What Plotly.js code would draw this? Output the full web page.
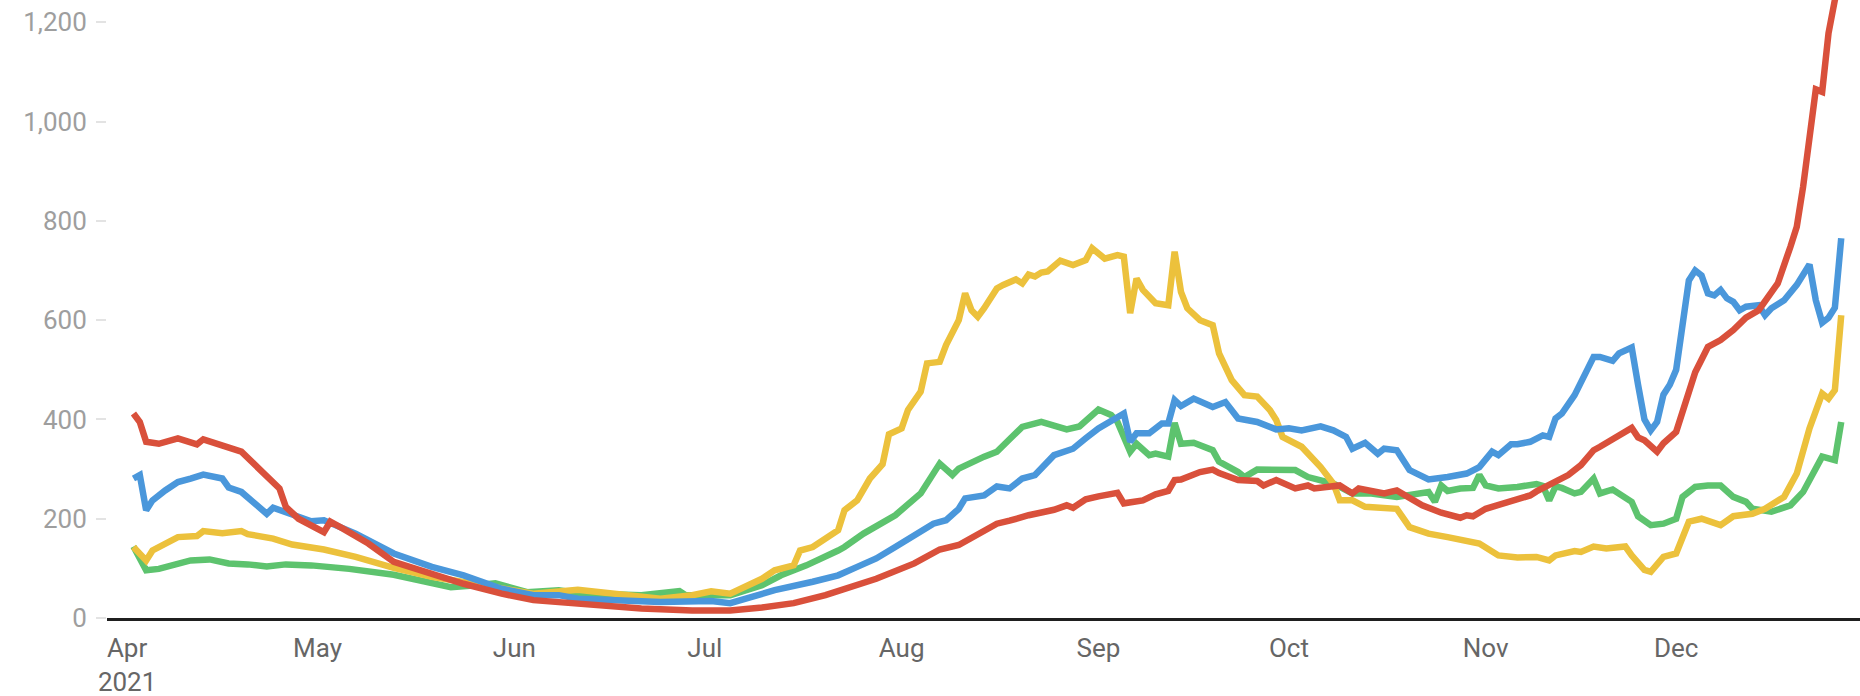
<!DOCTYPE html>
<html>
<head>
<meta charset="utf-8">
<script src="https://cdn.plot.ly/plotly-3.0.1.min.js"></script>
<style>
  html, body { margin: 0; padding: 0; background: #ffffff; }
  #chart { width: 1860px; height: 696px; }
</style>
</head>
<body>
<div id="chart"></div>
<script>
// ---- Data (day offsets counted from START) ----
const START = '2021-04-01';

const redDays = [1,2,3,5,8,9,11,12,15,18, 21,24,25,27,31,32,34,38,42,48, 53,59,64,68,71,74,81,89,95,100,
  105,110,114,118,124,128,131,134,137,139, 142,146,148,149,151,153,156,157,160,162, 164,165,166,169,171,172,175,178,179,181,
  183,184,186,187,191,193,194,198,200,204, 207,210,211,212,214,216,218,221,222,225, 227,229,231,232,235,237,238,239,241,242,
  244,245,246,247,249,251,253,255,257,258, 260,262,263,264,265,266,267,268,269,270];
const redVals = [412,395,355,351,362,357,350,360,348,335, 298,261,224,200,173,194,180,150,113,89, 69,49,36,32,29,26,19,15,15,21,
  30,46,61,79,110,138,147,168,190,196, 207,218,227,222,239,245,252,231,237,249, 256,278,279,294,299,292,278,276,267,278,
  267,261,267,261,267,251,261,251,257,227, 212,202,207,205,220,227,237,247,255,274, 288,308,338,345,368,383,364,358,335,352,
  375,415,460,495,546,560,580,605,620,640, 674,748,788,869,956,1065,1060,1178,1245,1300];

const blueDays = [1,2,3,4,6,8,10,12,15,16, 18,20,22,23,26,29,31,36,42,48, 53,59,64,68,71,76,84,92,95,98,
  102,108,112,115,118,121,124,127,129,131, 132,135,137,139,141,143,146,149,151,153, 157,158,159,161,163,164,165,166,168,171,
  173,175,178,181,183,185,188,190,192,193, 195,197,198,200,202,205,208,211,213,215, 216,218,219,221,223,224,225,226,228,229,
  231,232,234,235,237,238,239,240,241,242, 243,244,245,246,247,248,249,250,251,252, 253,254,255,257,258,259,261,263,265,266,
  267,268,269,270];
const blueVals = [281,288,217,237,257,274,281,289,281,263, 254,231,210,222,207,195,197,170,130,103, 86,59,46,46,39,36,32,34,30,41,
  56,73,86,103,120,143,167,190,197,220, 241,247,265,261,281,288,328,341,362,382, 412,355,372,372,392,392,439,427,442,425,
  435,402,395,380,382,378,386,378,365,341, 353,331,341,338,298,279,284,291,304,335, 328,350,350,355,368,365,402,412,449,476,
  526,526,518,533,545,470,400,378,395,450, 470,500,600,680,700,690,654,650,661,644, 637,620,627,630,610,624,640,671,712,640,
  595,605,625,765];

const greenDays = [1,3,5,8,10,13,16,19,22,25, 29,35,42,46,51,55,58,63,68,71, 76,81,87,88,95,98,100,103,107,112,
  113,116,119,121,125,128,130,131,135,137, 139,141,144,146,148,150,153,155,156,158, 159,161,162,164,165,166,168,171,172,175,
  176,178,181,184,186,190,193,196,200,203, 205,206,207,208,210,212,213,214,216,219, 222,223,224,225,226,228,229,231,232,234,
  235,237,238,239,240,242,244,245,247,249, 251,253,255,256,259,262,264,267,269,270];
const greenVals = [144,96,99,110,116,118,110,108,104,108, 106,99,87,76,62,66,70,52,56,50, 49,46,54,46,46,57,66,86,106,136,
  143,170,190,207,251,311,288,301,325,335, 360,385,395,386,380,386,420,409,395,335, 351,328,331,325,393,351,353,338,315,294,
  284,299,299,298,284,271,251,251,244,251, 254,234,267,256,261,262,288,267,261,264, 270,266,237,265,262,251,254,281,251,259,
  251,234,205,194,187,190,200,244,264,267, 267,244,234,220,214,227,254,325,318,395];

const yellowDays = [1,3,4,6,8,11,12,15,18,19, 23,26,31,36,42,48,56,64,71,76, 84,89,92,95,98,100,102,105,106,108,
  112,113,115,117,119,120,122,123,125,126, 128,129,131,132,133,134,135,137,138,140, 141,142,143,144,145,147,149,151,152,154,
  156,157,158,159,160,162,164,165,166,167, 169,171,172,174,176,178,180,181,182,185, 188,190,191,193,195,200,202,205,208,210,
  211,213,216,219,222,224,225,228,229,231, 233,236,237,239,240,242,244,246,248,250, 251,253,256,258,261,263,265,267,268,269,
  270];
const yellowVals = [143,116,136,150,163,165,175,171,175,169, 160,148,138,123,101,83,66,49,57,50, 39,46,54,49,66,79,96,106,136,143,
  177,217,237,281,310,370,382,419,456,513, 516,550,600,654,620,607,624,664,671,682, 674,692,688,696,698,720,711,721,745,724,
  731,728,614,684,661,634,630,738,657,624, 600,590,533,479,449,446,419,399,365,345, 304,271,237,237,224,220,183,170,163,157,
  155,150,126,122,123,116,126,135,133,144, 140,144,126,97,93,123,130,194,200,189, 187,205,210,220,244,291,382,452,442,459,
  610];

const xTickVals = ['2021-04-01','2021-05-01','2021-06-01','2021-07-01','2021-08-01','2021-09-01','2021-10-01','2021-11-01','2021-12-01'];
const xTickText = ['Apr<br>2021','May','Jun','Jul','Aug','Sep','Oct','Nov','Dec'];
const yTickVals = [0,200,400,600,800,1000,1200];
const yTickText = ['0','200','400','600','800','1,000','1,200'];

// ---- helpers ----
const startMs = Date.parse(START + 'T00:00:00Z');
function toDates(days) {
  return days.map(d => new Date(startMs + d * 86400000).toISOString().slice(0, 10));
}

function series(days, vals, color) {
  return {
    type: 'scatter', mode: 'lines',
    x: toDates(days), y: vals,
    line: { color: color, width: 6.5, shape: 'linear' },
    hoverinfo: 'skip'
  };
}

const data = [
  series(greenDays, greenVals, '#5dc36e'),
  series(yellowDays, yellowVals, '#ecc13c'),
  series(blueDays, blueVals, '#4a97db'),
  series(redDays, redVals, '#d9503b')
];

const layout = {
  width: 1860, height: 696,
  margin: { l: 107, r: 0, t: 0, b: 78, pad: 0 },
  paper_bgcolor: '#ffffff', plot_bgcolor: '#ffffff',
  showlegend: false,
  font: { family: 'Roboto, "Noto Sans", sans-serif' },
  xaxis: {
    type: 'date',
    range: ['2021-03-28 20:00', '2021-12-29 23:00'],
    tickmode: 'array', tickvals: xTickVals, ticktext: xTickText,
    showgrid: false, zeroline: false,
    showline: true, linecolor: '#1f1f1f', linewidth: 3,
    ticks: '',
    ticklabelstandoff: 5,
    tickfont: { size: 26, color: '#666666' }
  },
  yaxis: {
    range: [0, 1245],
    tickmode: 'array', tickvals: yTickVals, ticktext: yTickText,
    showgrid: false, zeroline: false, showline: false,
    ticks: 'outside', ticklen: 10, tickwidth: 2, tickcolor: '#e3e3e3',
    ticklabelstandoff: 4,
    tickfont: { size: 26, color: '#9e9e9e' }
  }
};

Plotly.newPlot('chart', data, layout, { displayModeBar: false, staticPlot: true });
</script>
</body>
</html>
